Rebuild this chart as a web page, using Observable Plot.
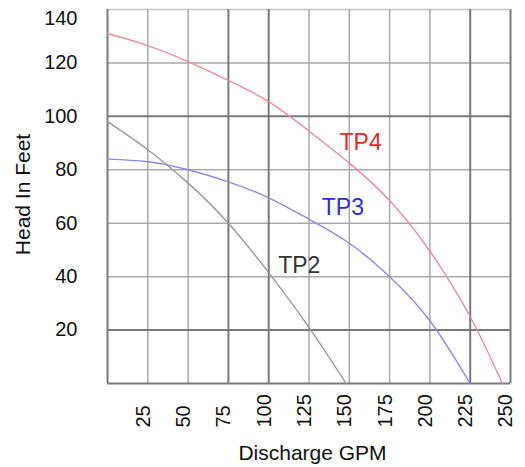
<!DOCTYPE html>
<html><head><meta charset="utf-8">
<script src="https://cdn.jsdelivr.net/npm/d3@7"></script>
<script src="https://cdn.jsdelivr.net/npm/@observablehq/plot@0.6"></script>
<style>html,body{margin:0;padding:0;background:#fff} #chart svg{display:block}</style>
</head><body><div id="chart"></div>
<script>
// Pump curves
const tp4Gpm  = [0, 25, 50, 75, 100, 125, 150, 175, 200, 225, 245];
const tp4Head = [131, 126.5, 120.5, 113.5, 105.5, 94.5, 82.5, 68.5, 49.5, 25, 0];
const tp3Gpm  = [0, 25, 50, 75, 100, 125, 150, 175, 200, 225];
const tp3Head = [84, 83, 80, 75.5, 69.5, 61.5, 52.5, 40, 23.5, 0];
const tp2Gpm  = [0, 25, 50, 75, 100, 125, 148];
const tp2Head = [98, 87.5, 75, 60, 41.5, 21, 0];

const seriesNames = ["TP4", "TP3", "TP2"];
const labelGpm  = [157, 146, 119];
const labelHead = [90, 66, 44];

const xTicks = [25, 50, 75, 100, 125, 150, 175, 200, 225, 250];
const yTicks = [20, 40, 60, 80, 100, 120];
const yTopTick = [140];
const xGridLight = [25, 50, 125, 150, 175, 200];
const xGridDark = [0, 75, 100, 225, 250];
const yGridLight = [40, 60, 80, 120];
const yGridDark = [0, 20, 100];
const yGridTop = [140];

const lineColors = {TP4: "#ec8c9c", TP3: "#8c8ce4", TP2: "#9a9a9a"};
const textColors = {TP4: "#e02a2a", TP3: "#2f2fd0", TP2: "#333333"};

const rows = (name, xs, ys) => xs.map((g, i) => ({series: name, gpm: g, head: ys[i]}));
const curves = [
  ...rows("TP4", tp4Gpm, tp4Head),
  ...rows("TP3", tp3Gpm, tp3Head),
  ...rows("TP2", tp2Gpm, tp2Head)
];
const labels = seriesNames.map((s, i) => ({series: s, gpm: labelGpm[i], head: labelHead[i]}));

const font = "Liberation Sans, Arial, Helvetica, sans-serif";

const chart = Plot.plot({
  width: 525,
  height: 467,
  marginLeft: 107,
  marginRight: 15,
  marginTop: 9,
  marginBottom: 84,
  style: {fontFamily: font, background: "#fff", overflow: "visible"},
  x: {domain: [0, 250], axis: null},
  y: {domain: [0, 140], axis: null},
  marks: [
    Plot.ruleY(yGridTop, {stroke: "#c4c4c4", strokeWidth: 1.6}),
    Plot.ruleX(xGridLight, {stroke: "#a9a9a9", strokeWidth: 1.5}),
    Plot.ruleY(yGridLight, {stroke: "#a9a9a9", strokeWidth: 1.5}),
    Plot.ruleX(xGridDark, {stroke: "#7a7a7a", strokeWidth: 2}),
    Plot.ruleY(yGridDark, {stroke: "#7a7a7a", strokeWidth: 2}),
    Plot.line(curves, {x: "gpm", y: "head", z: "series",
      stroke: d => lineColors[d.series], strokeWidth: 1.4, curve: "natural"}),
    Plot.text(labels, {x: "gpm", y: "head", text: "series",
      fill: d => textColors[d.series], fontSize: 23}),
    Plot.text(xTicks, {x: d => d, frameAnchor: "bottom", rotate: -90, textAnchor: "start",
      lineAnchor: "middle", dy: 44, dx: -4.5, fontSize: 20, fill: "#111"}),
    Plot.text(yTicks, {y: d => d, frameAnchor: "left", textAnchor: "end", lineAnchor: "middle",
      dx: -30, fontSize: 20, fill: "#111"}),
    Plot.text(yTopTick, {y: d => d, frameAnchor: "left", textAnchor: "end", lineAnchor: "middle",
      dx: -30, dy: 9, fontSize: 20, fill: "#111"}),
    Plot.text(["Head In Feet"], {frameAnchor: "left", rotate: -90, textAnchor: "middle",
      lineAnchor: "middle", dx: -84, dy: -2, fontSize: 21, fill: "#111"}),
    Plot.text(["Discharge GPM"], {frameAnchor: "bottom", textAnchor: "middle", lineAnchor: "middle",
      dy: 70, dx: 3.5, fontSize: 21, fill: "#111"})
  ]
});
document.getElementById("chart").appendChild(chart);
</script>
</body></html>
